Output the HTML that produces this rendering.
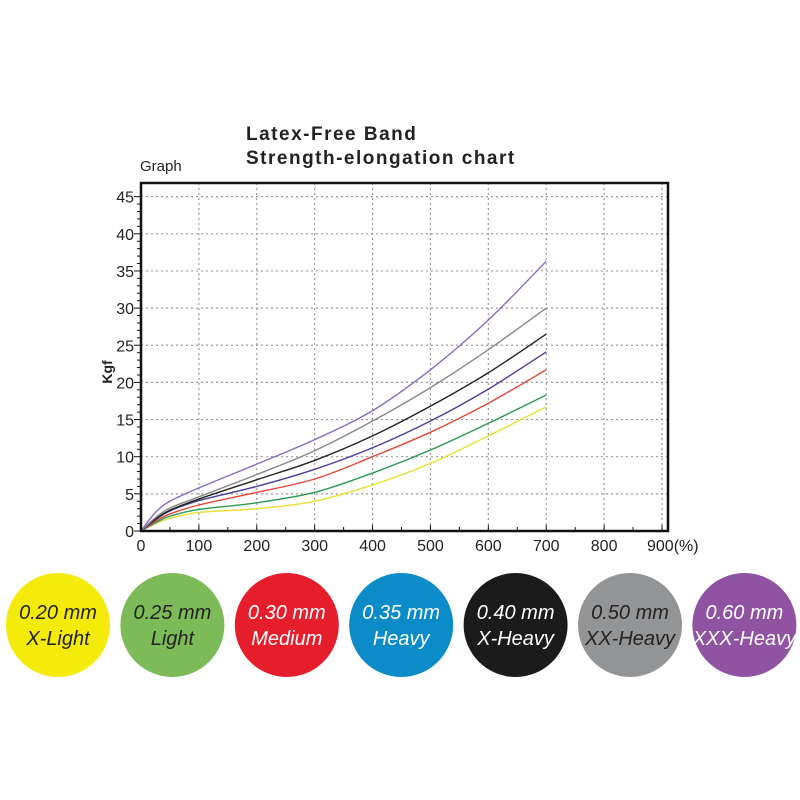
<!DOCTYPE html>
<html><head><meta charset="utf-8"><style>
body{margin:0;background:#fff;width:800px;height:800px;overflow:hidden;font-family:"Liberation Sans",sans-serif}
svg{position:absolute;left:0;top:0}
</style></head><body>
<svg id="s" width="800" height="800" xmlns="http://www.w3.org/2000/svg">
<text x="246" y="140" font-size="19" font-weight="bold" letter-spacing="1.5" fill="#222">Latex-Free Band</text>
<text x="246" y="164" font-size="19" font-weight="bold" letter-spacing="1.5" fill="#222">Strength-elongation chart</text>
<text x="140" y="171" font-size="15" fill="#222">Graph</text>
<g id="grid" stroke="#999" stroke-width="1.2" stroke-dasharray="2,3"></g>
<g id="curves" fill="none" stroke-width="1.4"></g>
<rect x="141" y="183" width="527" height="348" fill="none" stroke="#111" stroke-width="2.5"/>
<g id="ticks" stroke="#111" stroke-width="1"></g>
<g id="labels" font-size="16" fill="#222"></g>
<text transform="translate(112,372) rotate(-90)" font-size="14" font-weight="bold" fill="#222" text-anchor="middle">Kgf</text>
<g id="circ" font-family="'Liberation Sans',sans-serif" font-style="italic" font-size="20" text-anchor="middle"></g>
</svg>
<script>
var NS="http://www.w3.org/2000/svg";
function el(p,t,a,txt){var e=document.createElementNS(NS,t);for(var k in a)e.setAttribute(k,a[k]);if(txt!=null)e.textContent=txt;document.getElementById(p).appendChild(e);}
function X(v){return 141+v*0.5789;}function Y(v){return 531-v*7.43;}
for(var i=1;i<=9;i++)el("grid","line",{x1:X(i*100),x2:X(i*100),y1:183,y2:531});
for(var j=1;j<=9;j++)el("grid","line",{x1:141,x2:668,y1:Y(j*5),y2:Y(j*5)});
for(var i=0;i<=18;i++){var x=X(i*50);el("ticks","line",{x1:x,x2:x,y1:531,y2:i%2?527:525});}
for(var j=0;j<=45;j++){var y=Y(j);el("ticks","line",{x1:141,x2:j%5?137:134,y1:y,y2:y});}
for(var i=0;i<=9;i++)el("labels","text",{x:X(i*100),y:551,"text-anchor":"middle"},i==9?"":i*100);
el("labels","text",{x:X(900)-15,y:551},"900(%)");
for(var j=0;j<=9;j++)el("labels","text",{x:134,y:Y(j*5)+6,"text-anchor":"end"},j*5);
var xs=[0,25,50,100,200,300,400,500,600,700];
var S=[
["#e8e030",[0,1.0,1.7,2.5,3.0,4.0,6.2,9.1,12.8,16.7]],
["#2a9a55",[0,1.1,2.0,2.9,3.8,5.2,7.8,10.9,14.5,18.3]],
["#e8483a",[0,1.3,2.3,3.5,5.2,7.0,10.0,13.3,17.2,21.7]],
["#4a3f9a",[0,1.5,2.7,4.1,6.0,8.3,11.2,14.8,19.1,24.1]],
["#222222",[0,1.6,2.8,4.3,6.9,9.5,12.8,16.8,21.3,26.5]],
["#888888",[0,1.8,3.1,4.6,7.6,10.8,14.8,19.3,24.4,30.0]],
["#8a6cc0",[0,2.5,4.0,5.8,9.0,12.3,16.2,21.7,28.4,36.3]]];
S.forEach(function(s){var p=xs.map(function(x,i){return [X(x),Y(s[1][i])];});
var d="M"+p[0][0]+","+p[0][1];
for(var i=0;i<p.length-1;i++){var a=p[i-1]||p[i],b=p[i],c=p[i+1],e=p[i+2]||c;
d+=" C"+(b[0]+(c[0]-a[0])/6)+","+(b[1]+(c[1]-a[1])/6)+" "+(c[0]-(e[0]-b[0])/6)+","+(c[1]-(e[1]-b[1])/6)+" "+c[0]+","+c[1];}
el("curves","path",{d:d,stroke:s[0]});});
var C=[["#f5eb0a","#222","0.20 mm","X-Light"],["#7dbb58","#222","0.25 mm","Light"],["#e61d2b","#fff","0.30 mm","Medium"],["#0b8bc8","#fff","0.35 mm","Heavy"],["#1b1b1b","#fff","0.40 mm","X-Heavy"],["#939496","#222","0.50 mm","XX-Heavy"],["#8f53a1","#fff","0.60 mm","XXX-Heavy"]];
C.forEach(function(c,i){var cx=58+i*114.4;el("circ","circle",{cx:cx,cy:625,r:52,fill:c[0]});
el("circ","text",{x:cx,y:619,fill:c[1]},c[2]);el("circ","text",{x:cx,y:645,fill:c[1]},c[3]);});
</script>
</body></html>
